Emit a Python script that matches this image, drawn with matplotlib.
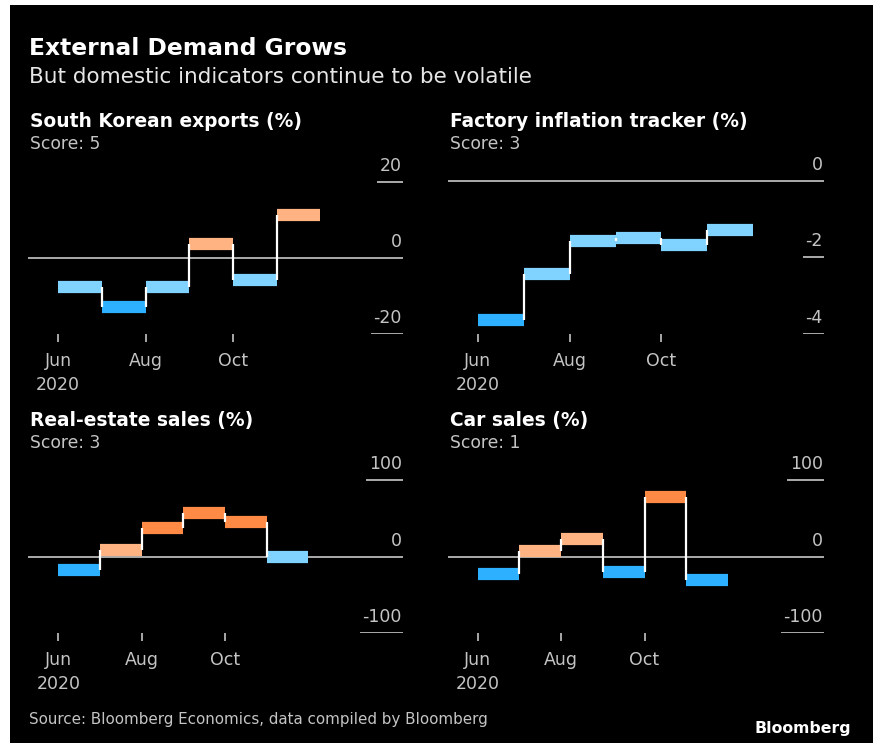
import matplotlib
matplotlib.use("Agg")
import matplotlib.pyplot as plt
from matplotlib.patches import Rectangle
from matplotlib.transforms import ScaledTranslation
import numpy as np

W, H = 873, 743

months = ['Jun', 'Jul', 'Aug', 'Sep', 'Oct', 'Nov']
month_ticks = ['Jun\n2020', 'Aug', 'Oct']

exports = [-7.7, -13.0, -7.7, 3.7, -5.8, 11.3]
factory = [-3.64, -2.43, -1.58, -1.48, -1.68, -1.27]
real_estate = [-18, 9, 38, 57, 45, -1]
car_sales = [-22, 8, 23, -20, 78, -31]

# 0 = weak, 1 = soft, 2 = firm, 3 = strong
exports_tone = [1, 0, 1, 2, 1, 2]
factory_tone = [0, 1, 1, 1, 1, 1]
real_estate_tone = [0, 2, 3, 3, 3, 1]
car_sales_tone = [0, 2, 2, 0, 3, 0]

exports_yticks = [20, 0, -20]
factory_yticks = [0, -2, -4]
real_estate_yticks = [100, 0, -100]
car_sales_yticks = [100, 0, -100]

tone_colors = ['#2cb0ff', '#80d2ff', '#ffb383', '#ff8a45']
grey = '#ababab'
label_grey = '#c4c4c4'

fig = plt.figure(figsize=(W / 100, H / 100), dpi=100, facecolor='white')
fig.patches.append(Rectangle((10 / W, 0), 1, 1 - 5 / H, transform=fig.transFigure,
                             facecolor='black', edgecolor='none', zorder=-10))
renderer = fig.canvas.get_renderer()


def px(x, y):
    return x / W, 1 - y / H


def panel(left, right, top, bottom, zero_y, px_per_unit, xlim,
          values, tones, yticks, title, score):
    ax = fig.add_axes([left / W, 1 - bottom / H, (right - left) / W, (bottom - top) / H])
    ax.set_facecolor('none')
    ax.set_ylim(-(bottom - zero_y) / px_per_unit, (zero_y - top) / px_per_unit)
    ax.set_xlim(*xlim)
    for s in ax.spines.values():
        s.set_visible(False)

    n = len(values)
    x = np.arange(n + 1)
    # white step connectors between months
    for i in range(n - 1):
        ax.vlines(x[i + 1], values[i], values[i + 1], color='white', lw=1.6, zorder=4)
    for i, v in enumerate(values):
        ax.plot([x[i], x[i + 1]], [v, v], color=tone_colors[tones[i]], lw=8.8,
                solid_capstyle='butt', zorder=3)

    ax.axhline(0, color=grey, lw=1.4, zorder=1)

    # y labels sit on the right, above a short rule
    ytr = ax.get_yaxis_transform()
    raised = ytr + ScaledTranslation(0, 11 / 100, fig.dpi_scale_trans)
    width_px = right - left
    for t in yticks:
        txt = ax.text(0.997, t, f'{t}', transform=raised, ha='right', va='baseline',
                      color=label_grey, fontsize=12.5)
        if t != 0:
            tw = txt.get_window_extent(renderer).width + 4
            ax.hlines(t, 1 - tw / width_px, 1, transform=ytr, color=grey, lw=1.4)

    ax.set_xticks([0, 2, 4])
    ax.set_xticklabels(month_ticks, fontsize=12.5, linespacing=1.45, va='top')
    ax.tick_params(axis='x', colors=label_grey, length=6, width=1.2, pad=7)
    ax.set_yticks([])

    fig.text(*px(left + 2, top - 29), title, color='white', fontsize=13.4,
             fontweight='bold', va='baseline')
    fig.text(*px(left + 2, top - 7), score, color=label_grey, fontsize=12.3,
             va='baseline')
    return ax


# top row
panel(28, 403, 156, 334, 258, 3.8, (-0.69, 7.89),
      exports, exports_tone, exports_yticks, 'South Korean exports (%)', 'Score: 5')
panel(448, 824, 156, 334, 181, 38.2, (-0.65, 7.54),
      factory, factory_tone, factory_yticks, 'Factory inflation tracker (%)', 'Score: 3')
# bottom row
panel(28, 403, 455, 633, 556.7, 0.766, (-0.73, 8.27),
      real_estate, real_estate_tone, real_estate_yticks, 'Real-estate sales (%)', 'Score: 3')
panel(448, 824, 455, 633, 556.7, 0.766, (-0.71, 8.3),
      car_sales, car_sales_tone, car_sales_yticks, 'Car sales (%)', 'Score: 1')

fig.text(*px(29, 55), 'External Demand Grows', color='white', fontsize=16.8,
         fontweight='bold', va='baseline')
fig.text(*px(29, 83), 'But domestic indicators continue to be volatile',
         color='#e6e6e6', fontsize=15.5, va='baseline')
fig.text(*px(29, 724), 'Source: Bloomberg Economics, data compiled by Bloomberg',
         color=label_grey, fontsize=10.9, va='baseline')
fig.text(*px(851, 733), 'Bloomberg', color='white', fontsize=11.3,
         fontweight='bold', ha='right', va='baseline')

fig.savefig('out.png', dpi=100, facecolor=fig.get_facecolor())
